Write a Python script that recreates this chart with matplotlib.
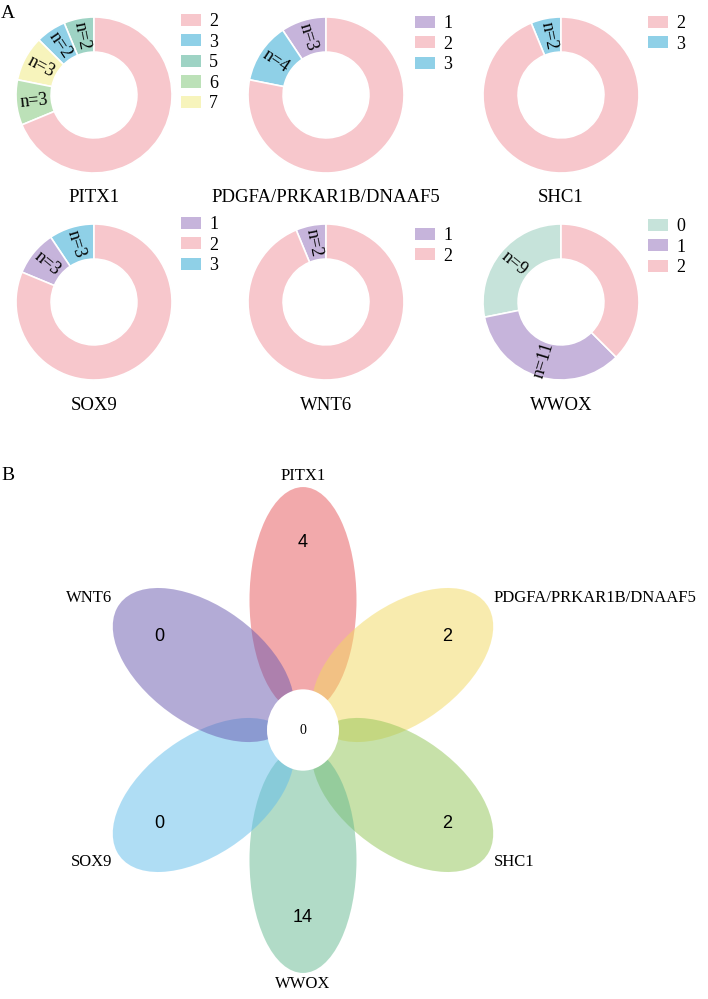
import numpy as np
import matplotlib
matplotlib.use('Agg')
import matplotlib.pyplot as plt
from matplotlib.patches import Ellipse, Circle

W, H = 708, 999
plt.rcParams['font.family'] = ['Liberation Serif', 'DejaVu Serif']

# --- part A: copy-number donuts ---
genes = ['PITX1', 'PDGFA/PRKAR1B/DNAAF5', 'SHC1', 'SOX9', 'WNT6', 'WWOX']
cn_levels = [[2, 3, 5, 6, 7], [1, 2, 3], [2, 3], [1, 2, 3], [1, 2], [0, 1, 2]]
cn_counts = [[22, 2, 2, 3, 3], [3, 25, 4], [30, 2], [3, 26, 3], [2, 30], [9, 11, 12]]
# wedge order, counter-clockwise from 12 o'clock
draw_order = [[5, 3, 7, 6, 2], [1, 3, 2], [3, 2], [3, 1, 2], [1, 2], [0, 1, 2]]
level_colors = {0: '#C6E3DA', 1: '#C6B4DB', 2: '#F7C7CC', 3: '#8FD0E7',
                5: '#9ED3C4', 6: '#BCE1B8', 7: '#F7F4BC'}

# --- part B: flower ---
petal_names = ['PITX1', 'PDGFA/PRKAR1B/DNAAF5', 'SHC1', 'WWOX', 'SOX9', 'WNT6']
petal_counts = [4, 2, 2, 14, 0, 0]
core_count = 0
petal_colors = ['#E75559', '#F3D95F', '#91C555', '#65B991', '#61BDEB', '#6959AF']

fig = plt.figure(figsize=(W / 100, H / 100), dpi=100)

col_x = [94, 326, 561]
row_y = [95, 302]
title_y = [197, 405]
R = 78

for i, gene in enumerate(genes):
    cx, cy = col_x[i % 3], row_y[i // 3]
    ax = fig.add_axes([(cx - R) / W, 1 - (cy + R) / H, 2 * R / W, 2 * R / H])
    order = draw_order[i]
    vals = [cn_counts[i][cn_levels[i].index(l)] for l in order]
    cols = [level_colors[l] for l in order]
    wedges, _ = ax.pie(vals, colors=cols, startangle=90, counterclock=True,
                       radius=1, wedgeprops=dict(width=0.45, edgecolor='white', linewidth=1.2))
    ax.set_xlim(-1, 1)
    ax.set_ylim(-1, 1)
    ax.axis('off')
    # n= labels along the radius
    for w, l, v in zip(wedges, order, vals):
        if l == 2:
            continue
        th = 0.5 * (w.theta1 + w.theta2)
        r = 0.775
        ax.text(r * np.cos(np.radians(th)), r * np.sin(np.radians(th)), f'n={v}',
                rotation=(th + 180) % 360, rotation_mode='anchor',
                ha='center', va='center', fontsize=13)
    handles = [wedges[order.index(l)] for l in cn_levels[i]]
    lx = cx + 87 if i % 3 != 1 else cx + 89
    ly = {0: 13, 1: 15, 2: 15, 3: 216, 4: 227, 5: 218}[i]
    leg = ax.legend(handles, [str(l) for l in cn_levels[i]], loc='upper left',
                    bbox_to_anchor=(lx / W, 1 - ly / H), bbox_transform=fig.transFigure,
                    frameon=False, fontsize=13, borderpad=0, borderaxespad=0,
                    handlelength=1.1, handleheight=0.67, handletextpad=0.45,
                    labelspacing=0.2)
    for h in leg.legend_handles:
        h.set_edgecolor('none')
    fig.text(cx / W, 1 - title_y[i // 3] / H, gene, ha='center', va='center', fontsize=13.5)

fig.text(8 / W, 1 - 14 / H, 'A', ha='center', va='center', fontsize=14)
fig.text(8 / W, 1 - 475 / H, 'B', ha='center', va='center', fontsize=14)

# flower axes: 1 x-unit = 1 px, 1 y-unit = 1.13 px
top_px, bot_px, ctr_x, ctr_y = 440, 999, 303, 730
sy = 1.13
axf = fig.add_axes([0, 1 - bot_px / H, 1, (bot_px - top_px) / H])
axf.set_xlim(-ctr_x, W - ctr_x)
axf.set_ylim(-(bot_px - ctr_y) / sy, (ctr_y - top_px) / sy)
axf.axis('off')

a, b, d = 100, 53.5, 115
for k, (name, cnt, col) in enumerate(zip(petal_names, petal_counts, petal_colors)):
    phi = 90 - 60 * k
    c, s = np.cos(np.radians(phi)), np.sin(np.radians(phi))
    axf.add_patch(Ellipse((d * c, d * s), 2 * a, 2 * b, angle=phi,
                          facecolor=col, edgecolor='none', alpha=0.5))
    axf.text(166 * c, 166 * s, str(cnt), ha='center', va='center', fontsize=13,
             family='Liberation Sans')
    if abs(c) < 0.1:
        ha = 'center'
        px, py = 0, 225 * np.sign(s)
    else:
        ha = 'left' if c > 0 else 'right'
        px, py = 191 * np.sign(c), 117 * np.sign(s)
    axf.text(px, py, name, ha=ha, va='center', fontsize=12)

axf.add_patch(Circle((0, 0), 36, facecolor='white', edgecolor='none'))
axf.text(0, 0, str(core_count), ha='center', va='center', fontsize=10)

fig.savefig('out.png', dpi=100)
